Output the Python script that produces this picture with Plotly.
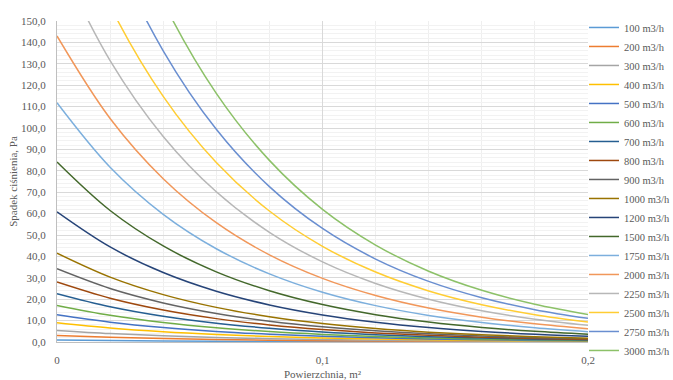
import plotly.graph_objects as go

# Powierzchnia, m2 (x values)
area = [0.00, 0.02, 0.04, 0.06, 0.08, 0.10, 0.12, 0.14, 0.16, 0.18, 0.20]

# Spadek ciśnienia, Pa — values for each flow rate
dp_100 = [0.90, 0.66, 0.48, 0.35, 0.26, 0.19, 0.14, 0.10, 0.07, 0.05, 0.04]
dp_200 = [3.00, 2.19, 1.60, 1.17, 0.85, 0.62, 0.46, 0.33, 0.24, 0.18, 0.13]
dp_300 = [5.40, 3.94, 2.88, 2.11, 1.54, 1.12, 0.82, 0.60, 0.44, 0.32, 0.23]
dp_400 = [9.00, 6.57, 4.80, 3.51, 2.56, 1.87, 1.37, 1.00, 0.73, 0.53, 0.39]
dp_500 = [12.7, 9.28, 6.78, 4.95, 3.62, 2.64, 1.93, 1.41, 1.03, 0.75, 0.55]
dp_600 = [17.1, 12.49, 9.13, 6.67, 4.87, 3.56, 2.60, 1.90, 1.39, 1.01, 0.74]
dp_700 = [22.6, 16.51, 12.06, 8.81, 6.44, 4.70, 3.44, 2.51, 1.83, 1.34, 0.98]
dp_800 = [28.0, 20.45, 14.94, 10.92, 7.97, 5.82, 4.26, 3.11, 2.27, 1.66, 1.21]
dp_900 = [34.2, 24.98, 18.25, 13.33, 9.74, 7.11, 5.20, 3.80, 2.77, 2.03, 1.48]
dp_1000 = [41.5, 30.32, 22.15, 16.18, 11.82, 8.63, 6.31, 4.61, 3.37, 2.46, 1.80]
dp_1200 = [60.8, 44.41, 32.45, 23.71, 17.32, 12.65, 9.24, 6.75, 4.93, 3.61, 2.63]
dp_1500 = [84.1, 61.44, 44.88, 32.79, 23.95, 17.49, 12.78, 9.34, 6.82, 4.99, 3.64]
dp_1750 = [111.8, 81.67, 59.67, 43.59, 31.84, 23.25, 16.99, 12.41, 9.07, 6.63, 4.84]
dp_2000 = [143.0, 104.46, 76.32, 55.76, 40.73, 29.74, 21.74, 15.87, 11.60, 8.48, 6.19]
dp_2250 = [180.0, 131.5, 96.07, 70.18, 51.26, 37.44, 27.36, 19.98, 14.60, 10.67, 7.79]
dp_2500 = [215.0, 157.06, 114.75, 83.83, 61.23, 44.72, 32.68, 23.87, 17.44, 12.75, 9.31]
dp_2750 = [255.0, 186.28, 136.09, 99.42, 72.62, 53.04, 38.76, 28.31, 20.68, 15.12, 11.04]
dp_3000 = [298.0, 217.69, 159.04, 116.19, 84.87, 61.98, 45.30, 33.08, 24.17, 17.67, 12.90]

series_names = ["100 m3/h", "200 m3/h", "300 m3/h", "400 m3/h", "500 m3/h", "600 m3/h",
                "700 m3/h", "800 m3/h", "900 m3/h", "1000 m3/h", "1200 m3/h", "1500 m3/h",
                "1750 m3/h", "2000 m3/h", "2250 m3/h", "2500 m3/h", "2750 m3/h", "3000 m3/h"]
series_values = [dp_100, dp_200, dp_300, dp_400, dp_500, dp_600, dp_700, dp_800, dp_900,
                 dp_1000, dp_1200, dp_1500, dp_1750, dp_2000, dp_2250, dp_2500, dp_2750, dp_3000]
series_colors = ["#5B9BD5", "#ED7D31", "#A5A5A5", "#FFC000", "#4472C4", "#70AD47",
                 "#255E91", "#9E480E", "#636363", "#997300", "#264478", "#43682B",
                 "#7CAFDD", "#F1975A", "#B7B7B7", "#FFCD33", "#698ED0", "#8CC168"]

y_ticks = [0, 10, 20, 30, 40, 50, 60, 70, 80, 90, 100, 110, 120, 130, 140, 150]
x_ticks = [0, 0.1, 0.2]
x_ticktext = ["0", "0,1", "0,2"]

fig = go.Figure()
for name, vals, col in zip(series_names, series_values, series_colors):
    fig.add_trace(go.Scatter(x=area, y=vals, name=name, mode="lines",
                             line=dict(color=col, width=1.5, shape="spline", smoothing=1.0)))

font_fam = "Liberation Serif"
fig.update_layout(
    width=673, height=380,
    margin=dict(l=57, r=85, t=21, b=38, autoexpand=False),
    paper_bgcolor="white", plot_bgcolor="white",
    separators=", ",
    font=dict(family=font_fam, size=11, color="#595959"),
    showlegend=True,
    legend=dict(x=0.9925, xanchor="left", y=1.025, yanchor="top",
                font=dict(family=font_fam, size=10.5, color="#595959"),
                bgcolor="rgba(0,0,0,0)", itemwidth=30, tracegroupgap=0,
                maxheight=400),
)
fig.update_xaxes(
    range=[0, 0.2], tickvals=x_ticks, ticktext=x_ticktext,
    showgrid=True, gridcolor="#D9D9D9", gridwidth=1,
    minor=dict(dtick=0.02, showgrid=True, gridcolor="#EFEFEF", gridwidth=1),
    showline=True, linecolor="#BFBFBF", linewidth=1, zeroline=False,
    ticklabelstandoff=8,
    title=dict(text="Powierzchnia, m²", font=dict(family=font_fam, size=11, color="#595959"), standoff=6),
)
fig.update_yaxes(
    range=[0, 150], tickvals=y_ticks, tickformat=".1f",
    showgrid=True, gridcolor="#D9D9D9", gridwidth=1,
    minor=dict(dtick=2, showgrid=True, gridcolor="#F2F2F2", gridwidth=1),
    showline=True, linecolor="#BFBFBF", linewidth=1, zeroline=False,
    ticklabelstandoff=8,
    title=dict(text="Spadek ciśnienia, Pa", font=dict(family=font_fam, size=11, color="#595959"), standoff=1),
)

fig.write_html("out.html")
